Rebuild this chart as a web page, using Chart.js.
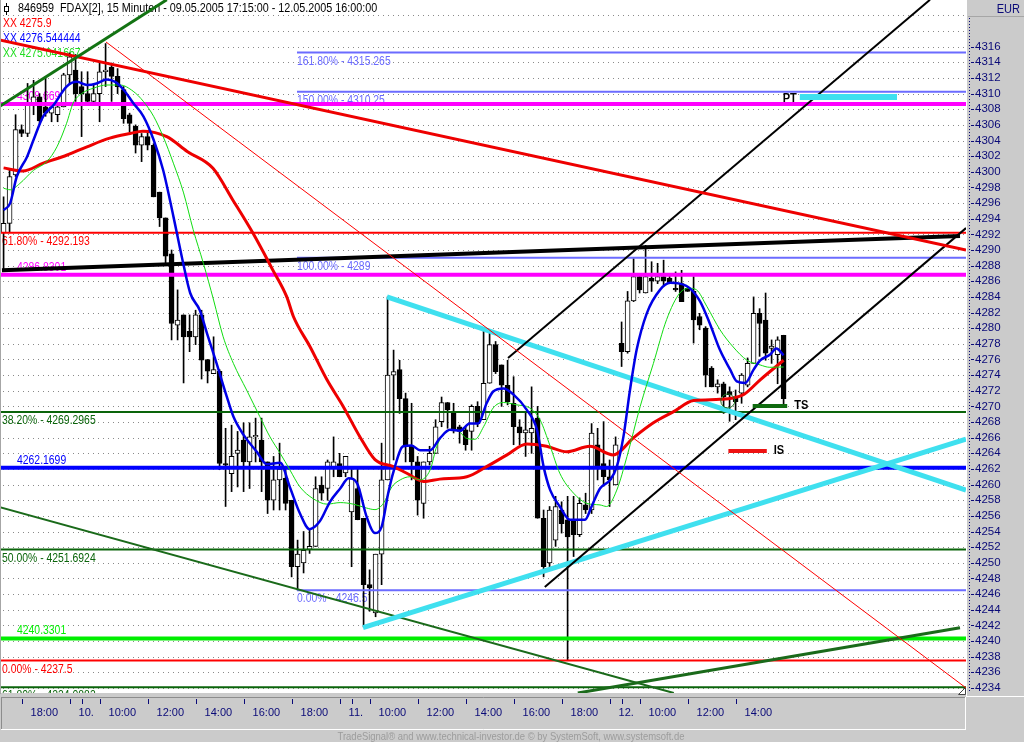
<!DOCTYPE html>
<html>
<head>
<meta charset="utf-8">
<title>FDAX 15 Minuten</title>
<script src="https://cdn.jsdelivr.net/npm/chart.js@4.4.1/dist/chart.umd.min.js"></script>
<style>
  html, body { margin: 0; padding: 0; background: #cbcbcb; }
  canvas { display: block; }
</style>
</head>
<body>
<canvas id="chart" width="1024" height="742"></canvas>
<script>
// 15 minute bars, 09.05.2005 17:15 .. 12.05.2005 16:00 (index 0..130)
const opens = [
  4292.2, 4293.4, 4299.6, 4305.4, 4304.9, 4308.5, 4309.6, 4308.3, 4307.5, 4307.3,
  4308.3, 4312.4, 4313.0, 4310.9, 4310.0, 4309.0, 4310.0, 4312.8, 4313.4, 4312.2,
  4310.5, 4307.3, 4305.8, 4303.4, 4304.5, 4303.4, 4297.4, 4294.1, 4289.5, 4280.4,
  4281.7, 4279.6, 4278.9, 4281.7, 4276.0, 4274.2, 4274.5, 4262.7, 4261.4, 4264.0,
  4265.7, 4262.9, 4266.1, 4265.7, 4262.9, 4258.0, 4260.6, 4260.8, 4258.0, 4249.5,
  4250.0, 4251.7, 4252.1, 4259.95, 4259.5, 4262.3, 4262.7, 4261.5, 4256.5, 4259.5,
  4255.7, 4247.2, 4243.6, 4251.1, 4260.6, 4274.0, 4274.7, 4271.0, 4264.9, 4262.9,
  4257.6, 4262.9, 4264.0, 4268.05, 4270.5, 4269.3, 4267.4, 4267.0, 4266.8, 4270.0,
  4268.3, 4272.96, 4277.9, 4275.3, 4272.7, 4270.4, 4267.4, 4266.6, 4266.6, 4268.5,
  4255.7, 4250.0, 4252.9, 4256.75, 4255.5, 4255.3, 4253.6, 4257.4, 4256.75, 4265.1,
  4262.7, 4261.0, 4259.95, 4278.07, 4277.0, 4283.5, 4286.6, 4284.5, 4286.4, 4286.0,
  4286.6, 4286.4, 4285.1, 4285.7, 4285.1, 4284.7, 4281.5, 4280.0, 4274.9, 4272.5,
  4272.9, 4271.9, 4271.2, 4271.7, 4272.7, 4275.5, 4281.9, 4281.05, 4277.4, 4276.6,
  4279.1
];
const highs = [
  4296.8, 4300.2, 4307.3, 4306.0, 4311.3, 4311.7, 4310.0, 4312.2, 4308.6, 4308.6,
  4312.6, 4315.2, 4315.0, 4312.8, 4312.8, 4311.1, 4313.9, 4316.4, 4313.9, 4313.2,
  4310.9, 4307.5, 4306.0, 4304.9, 4305.0, 4303.6, 4297.4, 4294.1, 4290.0, 4284.9,
  4281.7, 4281.7, 4282.3, 4282.3, 4276.0, 4278.9, 4274.7, 4267.2, 4267.6, 4266.8,
  4267.9, 4267.9, 4268.5, 4268.5, 4262.9, 4263.6, 4265.3, 4262.3, 4258.0, 4252.9,
  4254.0, 4254.4, 4261.0, 4261.0, 4263.15, 4266.1, 4264.0, 4263.6, 4262.1, 4262.1,
  4255.7, 4249.1, 4251.1, 4265.3, 4284.0, 4277.2, 4275.9, 4271.7, 4270.4, 4263.6,
  4262.9, 4264.9, 4268.3, 4271.2, 4270.5, 4270.4, 4267.6, 4267.4, 4270.2, 4270.6,
  4279.6, 4279.35, 4278.3, 4275.3, 4275.9, 4273.8, 4268.3, 4269.3, 4272.5, 4270.0,
  4256.75, 4257.2, 4258.5, 4257.8, 4258.5, 4258.5, 4258.3, 4258.9, 4267.8, 4267.2,
  4268.05, 4263.15, 4266.1, 4280.8, 4284.7, 4288.9, 4287.0, 4290.6, 4288.5, 4288.3,
  4288.7, 4287.0, 4287.2, 4287.4, 4285.3, 4286.6, 4281.9, 4280.2, 4275.1, 4273.4,
  4273.1, 4272.5, 4272.1, 4274.2, 4276.2, 4284.0, 4282.5, 4284.5, 4278.5, 4278.9,
  4279.1
];
const lows = [
  4287.4, 4292.3, 4299.4, 4304.5, 4304.5, 4307.3, 4306.2, 4307.1, 4306.4, 4306.4,
  4308.3, 4311.3, 4309.0, 4304.5, 4308.8, 4308.6, 4306.4, 4310.9, 4309.0, 4310.0,
  4306.2, 4305.1, 4302.4, 4301.3, 4302.8, 4296.8, 4293.0, 4288.3, 4278.5, 4278.5,
  4273.0, 4277.0, 4277.9, 4273.5, 4273.0, 4274.2, 4261.9, 4257.2, 4259.1, 4259.7,
  4259.1, 4259.5, 4262.9, 4259.1, 4256.3, 4256.75, 4256.75, 4256.75, 4248.2, 4246.5,
  4248.7, 4251.2, 4252.1, 4258.0, 4258.0, 4261.0, 4261.0, 4261.0, 4249.5, 4255.5,
  4241.8, 4243.8, 4243.1, 4247.2, 4260.6, 4263.15, 4269.1, 4262.9, 4260.6, 4256.1,
  4255.7, 4262.5, 4264.0, 4267.4, 4267.2, 4266.6, 4265.3, 4264.4, 4264.4, 4267.4,
  4268.3, 4272.96, 4274.2, 4270.0, 4270.2, 4265.1, 4265.1, 4263.6, 4264.0, 4255.7,
  4248.2, 4249.1, 4252.1, 4253.8, 4237.5, 4250.8, 4253.35, 4256.3, 4256.3, 4260.6,
  4259.8, 4257.2, 4259.95, 4275.1, 4276.8, 4283.4, 4284.5, 4284.5, 4284.7, 4285.7,
  4285.5, 4285.7, 4284.7, 4283.4, 4284.7, 4278.1, 4279.8, 4272.5, 4272.5, 4271.7,
  4269.1, 4268.1, 4268.3, 4270.4, 4272.5, 4275.5, 4276.4, 4275.9, 4275.5, 4272.9,
  4270.0
];
const closes = [
  4293.4, 4299.4, 4305.4, 4304.9, 4308.5, 4309.6, 4306.5, 4307.5, 4308.3, 4308.3,
  4312.4, 4314.7, 4310.0, 4310.0, 4309.0, 4310.0, 4312.8, 4313.0, 4312.2, 4310.9,
  4306.8, 4306.2, 4303.4, 4304.5, 4303.4, 4296.8, 4294.1, 4289.2, 4280.6, 4281.05,
  4278.9, 4278.9, 4281.7, 4275.9, 4274.5, 4274.7, 4262.7, 4262.5, 4263.6, 4264.4,
  4262.9, 4266.1, 4266.3, 4262.9, 4258.0, 4260.6, 4262.0, 4257.6, 4249.5, 4251.1,
  4251.6, 4252.1, 4259.5, 4258.9, 4262.9, 4262.9, 4261.0, 4263.6, 4260.8, 4255.5,
  4247.2, 4246.8, 4251.1, 4260.6, 4274.0, 4274.45, 4271.0, 4264.9, 4262.9, 4258.0,
  4262.9, 4264.0, 4267.4, 4270.5, 4269.55, 4267.0, 4266.8, 4265.1, 4270.0, 4267.8,
  4272.96, 4277.9, 4274.45, 4272.7, 4270.6, 4267.4, 4266.6, 4267.0, 4267.2, 4255.7,
  4249.5, 4256.75, 4257.2, 4255.0, 4253.3, 4253.6, 4257.6, 4256.75, 4266.6, 4262.3,
  4261.0, 4260.6, 4265.1, 4277.0, 4283.5, 4286.6, 4284.9, 4286.6, 4286.0, 4286.6,
  4286.0, 4285.7, 4284.9, 4283.4, 4284.7, 4281.05, 4280.4, 4274.0, 4272.5, 4272.9,
  4271.2, 4271.5, 4270.6, 4274.0, 4275.5, 4281.9, 4280.6, 4276.8, 4277.7, 4278.5,
  4271.0
];

// moving averages as [bar index, price]
const maRed = [
  [0, 4300.5], [3.2, 4300.1], [6.6, 4301.1], [10.6, 4302.15], [13.9, 4303.2], [17.7, 4304.3],
  [21.1, 4304.9], [23.2, 4305.2], [27.2, 4304.5], [30.6, 4302.6], [34.9, 4300.45], [38.2, 4296.4],
  [41.6, 4292.1], [44.9, 4287.4], [47.2, 4284.0], [48.3, 4281.5], [51.1, 4277.6], [53.9, 4273.4],
  [56.6, 4270.0], [59.4, 4266.1], [61.9, 4263.2], [65.0, 4262.3], [67.2, 4261.45], [70.0, 4260.4],
  [72.7, 4260.7], [77.2, 4261.0], [80.5, 4262.3], [83.9, 4263.8], [87.2, 4265.2], [90.5, 4264.9],
  [93.9, 4264.2], [97.7, 4264.9], [101.6, 4263.8], [105.0, 4266.0], [108.3, 4267.9], [111.6, 4269.3],
  [115.0, 4270.75], [119.4, 4270.9], [123.3, 4271.5], [126.1, 4273.4], [130, 4275.9]
];
const maBlue = [
  [0, 4295.1], [1.1, 4296.0], [2.2, 4299.4], [3.9, 4301.9], [5.0, 4304.1], [6.6, 4307.1],
  [8.3, 4308.5], [10.5, 4310.9], [12.2, 4311.5], [13.9, 4311.1], [15.5, 4311.3], [17.2, 4311.8],
  [18.6, 4311.5], [20.0, 4310.5], [21.6, 4308.8], [23.3, 4307.1], [25.0, 4304.1], [26.6, 4300.2],
  [28.3, 4294.3], [29.7, 4289.15], [31.1, 4284.5], [32.7, 4282.3], [33.9, 4279.35], [35.5, 4275.5],
  [37.2, 4271.25], [38.3, 4268.7], [40.0, 4266.35], [42.2, 4264.2], [43.9, 4262.6], [46.1, 4262.8],
  [47.7, 4259.7], [49.4, 4256.3], [51.0, 4254.3], [52.7, 4255.3], [54.4, 4257.8], [56.1, 4259.5],
  [57.5, 4260.8], [58.9, 4260.2], [60.5, 4255.9], [61.9, 4253.8], [63.0, 4254.6], [64.1, 4258.9],
  [65.0, 4261.7], [66.6, 4264.9], [68.0, 4265.0], [69.4, 4264.4], [71.1, 4264.4], [72.7, 4265.9],
  [74.4, 4267.0], [76.1, 4266.9], [77.7, 4267.8], [79.1, 4267.8], [80.5, 4270.4], [81.6, 4271.9],
  [83.3, 4272.3], [85.0, 4271.5], [87.2, 4269.55], [88.9, 4267.0], [90.0, 4262.3], [91.1, 4259.3],
  [92.7, 4257.2], [94.4, 4255.5], [96.9, 4255.5], [98.0, 4257.2], [99.4, 4259.5], [101.1, 4260.6],
  [102.2, 4262.3], [103.3, 4266.1], [104.4, 4272.1], [105.5, 4277.2], [107.2, 4281.9], [109.4, 4284.9],
  [111.1, 4285.8], [112.7, 4285.7], [114.4, 4285.1], [116.1, 4283.4], [117.7, 4280.6], [119.4, 4277.2],
  [121.1, 4274.7], [122.2, 4273.2], [123.6, 4273.0], [125.0, 4274.7], [126.1, 4275.9], [127.7, 4276.6],
  [128.8, 4277.4], [130, 4276.54]
];
const maGreen = [
  [0, 4297.9], [1.1, 4297.7], [2.7, 4298.5], [5.0, 4300.2], [7.2, 4301.3], [8.9, 4303.2],
  [10.5, 4306.2], [11.6, 4308.8], [13.0, 4310.0], [15.0, 4310.7], [17.2, 4311.1], [19.4, 4311.1],
  [21.6, 4310.3], [23.3, 4309.0], [25.0, 4307.1], [26.6, 4304.5], [28.3, 4301.1], [30.0, 4297.3],
  [31.6, 4292.6], [33.3, 4288.3], [35.0, 4283.6], [36.6, 4278.9], [38.3, 4275.5], [40.5, 4272.1],
  [42.7, 4268.7], [44.4, 4266.1], [46.1, 4264.0], [47.7, 4261.9], [49.4, 4259.7], [51.6, 4258.2],
  [53.9, 4257.5], [56.1, 4257.7], [58.3, 4257.5], [60.5, 4257.0], [61.9, 4256.8], [63.3, 4257.6],
  [64.7, 4259.7], [66.1, 4260.6], [67.7, 4261.0], [69.4, 4260.6], [71.1, 4261.9], [72.2, 4264.9],
  [73.9, 4266.8], [75.5, 4267.0], [77.2, 4265.9], [78.6, 4265.8], [80.0, 4267.4], [81.6, 4269.8],
  [83.3, 4270.5], [85.5, 4270.2], [87.7, 4269.8], [89.4, 4268.3], [91.1, 4264.9], [92.7, 4261.45],
  [95.0, 4258.9], [97.2, 4257.6], [99.4, 4257.4], [100.5, 4257.2], [102.2, 4259.3], [103.9, 4263.6],
  [106.1, 4270.0], [108.3, 4275.5], [110.5, 4281.1], [112.7, 4284.5], [114.4, 4285.1], [115.5, 4284.9],
  [117.2, 4282.8], [119.4, 4279.8], [121.6, 4277.6], [123.9, 4275.9], [126.1, 4275.3], [127.7, 4275.0],
  [130, 4275.04]
];

// horizontal levels
const levelPrices = [4315.265, 4310.25, 4308.6699, 4292.193, 4289, 4286.8301, 4269.2965,
  4262.1699, 4251.6924, 4246.5, 4240.3301, 4237.5, 4234.0883];
const levelLabels = ['161.80% - 4315.265', '150.00% - 4310.25', '4308.6699', '61.80% - 4292.193',
  '100.00% - 4289', '4286.8301', '38.20% - 4269.2965', '4262.1699', '50.00% - 4251.6924',
  '0.00% - 4246.5', '4240.3301', '0.00% - 4237.5', '61.80% - 4234.0883'];

// trend lines, [bar index, price] start and end
const trendStart = [[-0.6, 4308.4], [-0.6, 4316.86], [17.07, 4316.6], [-0.27, 4287.4], [84.07, 4276.2],
  [90.2, 4246.9], [63.9, 4284.0], [59.9, 4241.7], [-0.6, 4257.1], [95.7, 4233.35]];
const trendEnd = [[27.2, 4322.0], [160.4, 4290.0], [160.4, 4234.0], [159.4, 4291.8], [154.4, 4322.0],
  [160.4, 4292.8], [160.4, 4259.3], [160.4, 4265.8], [111.7, 4233.35], [159.4, 4241.7]];

// short marks PT / TS / IS
const markNames = ['PT', 'TS', 'IS'];
const markFrom = [132.7, 124.85, 120.8];
const markTo = [148.9, 130.6, 127.2];
const markPrice = [4309.57, 4270.05, 4264.3];
const circleAt = [120.7, 4270.7];

// time axis
const xTickIdx = [3, 11, 13, 16, 24, 32, 40, 48, 56, 58, 61, 69, 77, 85, 93, 101, 103, 106, 114, 122];
const xTickText = ['18:00', '10.', '', '10:00', '12:00', '14:00', '16:00', '18:00', '11.', '', '10:00',
  '12:00', '14:00', '16:00', '18:00', '12.', '', '10:00', '12:00', '14:00'];

const headerText = '846959  FDAX[2], 15 Minuten - 09.05.2005 17:15:00 - 12.05.2005 16:00:00';
const legendText = ['XX 4275.9', 'XX 4276.544444', 'XX 4275.041667'];
const footerText = 'TradeSignal\u00ae and www.technical-investor.de \u00a9 by SystemSoft, www.systemsoft.de';

// ---- looks ----
const FONT = "'Liberation Sans', Arial, sans-serif";
const NAVY = '#0a0a78';
const X_MIN = -0.43, X_MAX = 160.4;
const Y_MIN = 4233.35, Y_MAX = 4321.97;
const FIB_FROM = 48.9;
const PERI = '#6b6bff';
const DKGREEN = '#0a640a';
const CYAN = '#3fe0ef';
const SQUEEZE = 0.8;   // the original font is a narrow one

const levelLook = [
  { c: PERI, w: 2, from: FIB_FROM, side: 'below' },
  { c: PERI, w: 2, from: FIB_FROM, side: 'below' },
  { c: '#ff00ff', w: 4, side: 'above', tx: 17 },
  { c: '#ff0000', w: 2, side: 'below', tx: 2 },
  { c: PERI, w: 2, from: FIB_FROM, side: 'below' },
  { c: '#ff00ff', w: 4, side: 'above', tx: 17 },
  { c: DKGREEN, w: 2, side: 'below', tx: 2 },
  { c: '#0000ff', w: 4, side: 'above', tx: 17 },
  { c: DKGREEN, w: 2, side: 'below', tx: 2 },
  { c: PERI, w: 2, from: FIB_FROM, side: 'below' },
  { c: '#00ee00', w: 4, side: 'above', tx: 17 },
  { c: '#ff0000', w: 2, side: 'below', tx: 2 },
  { c: DKGREEN, w: 2, side: 'below', tx: 2 }
];
const trendLook = [
  { c: '#137313', w: 3 }, { c: '#ee0000', w: 3 }, { c: '#ff0000', w: 1 }, { c: '#000000', w: 4 },
  { c: '#000000', w: 2 }, { c: '#000000', w: 2 }, { c: CYAN, w: 5 }, { c: CYAN, w: 5 },
  { c: '#1a6a1a', w: 2 }, { c: '#1a6a1a', w: 3 }
];
const markLook = [
  { c: CYAN, w: 6, side: 'left' }, { c: '#0f6a0f', w: 4, side: 'right' }, { c: '#ee1111', w: 4, side: 'right' }
];

function toPts(arr) {
  return arr.map(p => ({ x: p[0], y: p[1] }));
}

// candles as floating bars: thin wick + body
const wickData = opens.map((o, i) => ({
  x: i, y: [Math.min(lows[i], o, closes[i]), Math.max(highs[i], o, closes[i])]
}));
const bodyData = opens.map((o, i) => {
  let c = closes[i];
  if (Math.abs(c - o) < 0.15) c = o + 0.15;
  return { x: i, y: [o, c] };
});
const bodyFill = opens.map((o, i) => closes[i] >= o ? '#ffffff' : '#000000');

const datasets = [];
datasets.push({
  type: 'bar', data: wickData, backgroundColor: '#000000', borderWidth: 0,
  barThickness: 1, grouped: false, order: 100
});
datasets.push({
  type: 'bar', data: bodyData, backgroundColor: bodyFill, borderColor: '#000000', borderWidth: 1,
  borderSkipped: false, barThickness: 5, grouped: false, order: 99
});

levelPrices.forEach((p, i) => {
  const lk = levelLook[i];
  datasets.push({
    type: 'line', data: [{ x: lk.from !== undefined ? lk.from : X_MIN, y: p }, { x: X_MAX, y: p }],
    borderColor: lk.c, borderWidth: lk.w, pointRadius: 0, order: 50
  });
});

trendStart.forEach((s, i) => {
  datasets.push({
    type: 'line', data: toPts([s, trendEnd[i]]), borderColor: trendLook[i].c,
    borderWidth: trendLook[i].w, pointRadius: 0, order: 40
  });
});

datasets.push({ type: 'line', data: toPts(maRed), borderColor: '#ee0000', borderWidth: 3,
  pointRadius: 0, cubicInterpolationMode: 'monotone', order: 30 });
datasets.push({ type: 'line', data: toPts(maGreen), borderColor: '#11dd11', borderWidth: 1,
  pointRadius: 0, cubicInterpolationMode: 'monotone', order: 29 });
datasets.push({ type: 'line', data: toPts(maBlue), borderColor: '#0000e6', borderWidth: 2.5,
  pointRadius: 0, cubicInterpolationMode: 'monotone', order: 28 });

markNames.forEach((n, i) => {
  datasets.push({
    type: 'line', data: [{ x: markFrom[i], y: markPrice[i] }, { x: markTo[i], y: markPrice[i] }],
    borderColor: markLook[i].c, borderWidth: markLook[i].w, pointRadius: 0, order: 20
  });
});

datasets.push({
  type: 'line', data: [{ x: circleAt[0], y: circleAt[1] }], showLine: false,
  pointRadius: 7, pointStyle: 'circle', pointBackgroundColor: 'rgba(0,0,0,0)',
  pointBorderColor: '#1c6e1c', pointBorderWidth: 1, order: 10
});

function hline(ctx, x1, x2, y) {
  ctx.beginPath(); ctx.moveTo(x1, y); ctx.lineTo(x2, y); ctx.stroke();
}
function vline(ctx, x, y1, y2) {
  ctx.beginPath(); ctx.moveTo(x, y1); ctx.lineTo(x, y2); ctx.stroke();
}
// text squeezed sideways to imitate the narrow font of the original
function narrowText(ctx, s, x, y, sx) {
  ctx.save();
  ctx.translate(x, y);
  ctx.scale(sx, 1);
  ctx.fillText(s, 0, 0);
  ctx.restore();
}

// frame, grid, panels and texts around the plot
const chromePlugin = {
  id: 'chrome',
  beforeDraw(chart) {
    const { ctx, chartArea: a, scales } = chart;
    const y = scales.y, x = scales.x;
    ctx.save();
    ctx.fillStyle = '#cbcbcb';
    ctx.fillRect(0, 0, chart.width, chart.height);
    ctx.fillStyle = '#ffffff';
    ctx.fillRect(a.left, a.top, a.right - a.left, a.bottom - a.top);

    // dotted price grid
    ctx.strokeStyle = '#8a8a8a';
    ctx.lineWidth = 1;
    ctx.setLineDash([1, 4]);
    for (let v = 4234; v <= 4320; v += 2) {
      const py = Math.round(y.getPixelForValue(v)) + 0.5;
      hline(ctx, a.left + 2, a.right, py);
    }
    // dotted line at the price scale
    ctx.strokeStyle = NAVY;
    ctx.setLineDash([1, 2]);
    vline(ctx, 969.5, 18, 693);
    ctx.setLineDash([]);

    // dashes in front of the price labels
    for (let v = 4234; v <= 4316; v += 2) {
      const py = Math.round(y.getPixelForValue(v)) + 0.5;
      hline(ctx, 971, 974, py);
    }
    // tick marks of the time axis
    xTickIdx.forEach(v => {
      const px = Math.round(x.getPixelForValue(v)) + 0.5;
      vline(ctx, px, 699, 704);
    });

    // sunken time axis band
    ctx.strokeStyle = '#8c8c8c';
    hline(ctx, 1, 966, 697.5);
    vline(ctx, 1.5, 697, 729);
    ctx.strokeStyle = '#ffffff';
    hline(ctx, 1, 966, 729.5);
    vline(ctx, 965.5, 697, 730);
    // right panel borders
    vline(ctx, 966.5, 0, 697);
    hline(ctx, 966, 1024, 696.5);
    ctx.strokeStyle = '#a6a6a6';
    hline(ctx, 968, 1024, 16.5);
    vline(ctx, 0.5, 0, 694);

    ctx.fillStyle = NAVY;
    ctx.font = '13px ' + FONT;
    ctx.textAlign = 'right';
    narrowText(ctx, 'EUR', 1020, 13, 0.85);

    ctx.fillStyle = '#9c9c9c';
    ctx.font = '11px ' + FONT;
    ctx.textAlign = 'center';
    narrowText(ctx, footerText, 511, 740, 0.86);

    // small grip at the bottom right of the plot
    ctx.fillStyle = '#ffffff';
    ctx.strokeStyle = '#444444';
    ctx.beginPath();
    ctx.moveTo(958.5, 694.5); ctx.lineTo(965.5, 687.5); ctx.lineTo(965.5, 694.5); ctx.closePath();
    ctx.fill(); ctx.stroke();
    ctx.restore();
  },
  beforeDatasetsDraw(chart) {
    const { ctx, chartArea: a, scales } = chart;
    const y = scales.y, x = scales.x;
    ctx.save();
    ctx.beginPath();
    ctx.rect(a.left, a.top, a.right - a.left, a.bottom - a.top);
    ctx.clip();
    ctx.font = '13px ' + FONT;
    ctx.textAlign = 'left';
    levelPrices.forEach((p, i) => {
      const lk = levelLook[i];
      const py = y.getPixelForValue(p);
      const tx = lk.from !== undefined ? x.getPixelForValue(lk.from) : lk.tx;
      ctx.fillStyle = lk.c;
      if (lk.side === 'below') {
        ctx.textBaseline = 'top';
        narrowText(ctx, levelLabels[i], tx, py + 2, SQUEEZE);
      } else {
        ctx.textBaseline = 'alphabetic';
        narrowText(ctx, levelLabels[i], tx, py - 4, SQUEEZE);
      }
    });

    // header and indicator values
    ctx.textBaseline = 'alphabetic';
    ctx.fillStyle = '#000000';
    narrowText(ctx, headerText, 18, 12, 0.83);
    const legendColors = ['#ff0000', '#0000ff', '#22dd22'];
    legendText.forEach((t, i) => {
      ctx.fillStyle = legendColors[i];
      narrowText(ctx, t, 3, 27 + i * 15, SQUEEZE);
    });
    // candle icon in front of the header
    ctx.strokeStyle = '#000000';
    ctx.lineWidth = 1;
    vline(ctx, 6.5, 3, 15);
    ctx.fillStyle = '#ffffff';
    ctx.fillRect(4.5, 6.5, 4, 5);
    ctx.strokeRect(4.5, 6.5, 4, 5);
    ctx.restore();
  },
  afterDatasetsDraw(chart) {
    const { ctx, scales } = chart;
    const y = scales.y, x = scales.x;
    ctx.save();
    ctx.font = 'bold 13px ' + FONT;
    ctx.fillStyle = '#000000';
    ctx.textBaseline = 'middle';
    markNames.forEach((n, i) => {
      const py = y.getPixelForValue(markPrice[i]);
      if (markLook[i].side === 'left') {
        ctx.textAlign = 'right';
        narrowText(ctx, n, x.getPixelForValue(markFrom[i]) - 3, py + 1, 0.85);
      } else {
        ctx.textAlign = 'left';
        narrowText(ctx, n, x.getPixelForValue(markTo[i]) + 7, py - 1, 0.85);
      }
    });
    ctx.restore();
  }
};

new Chart(document.getElementById('chart').getContext('2d'), {
  type: 'bar',
  data: { datasets: datasets },
  options: {
    responsive: false,
    animation: false,
    events: [],
    layout: { autoPadding: false, padding: { left: 1, top: 0, right: 0, bottom: 0 } },
    plugins: { legend: { display: false }, tooltip: { enabled: false } },
    scales: {
      x: {
        type: 'linear', min: X_MIN, max: X_MAX, offset: false,
        grid: { display: false, drawTicks: false },
        border: { display: false },
        afterBuildTicks: function (axis) {
          axis.ticks = xTickIdx.map(v => ({ value: v }));
        },
        afterFit: function (axis) {
          axis.height = 49;
          axis.paddingLeft = 0;
          axis.paddingRight = 0;
        },
        ticks: {
          autoSkip: false, maxRotation: 0, minRotation: 0, align: 'start', labelOffset: 9, padding: 13,
          color: NAVY, font: { family: FONT, size: 11 },
          callback: function (value) {
            const k = xTickIdx.indexOf(value);
            return k >= 0 ? xTickText[k] : '';
          }
        }
      },
      y: {
        type: 'linear', position: 'right', min: Y_MIN, max: Y_MAX,
        grid: { display: false, drawTicks: false },
        border: { display: false },
        afterBuildTicks: function (axis) {
          const t = [];
          for (let v = 4234; v <= 4316; v += 2) t.push({ value: v });
          axis.ticks = t;
        },
        afterFit: function (axis) {
          axis.width = 58;
          axis.paddingTop = 0;
          axis.paddingBottom = 0;
        },
        ticks: {
          autoSkip: false, padding: 9, color: NAVY, font: { family: FONT, size: 11.5 },
          callback: function (value) { return String(value); }
        }
      }
    }
  },
  plugins: [chromePlugin]
});
</script>
</body>
</html>
